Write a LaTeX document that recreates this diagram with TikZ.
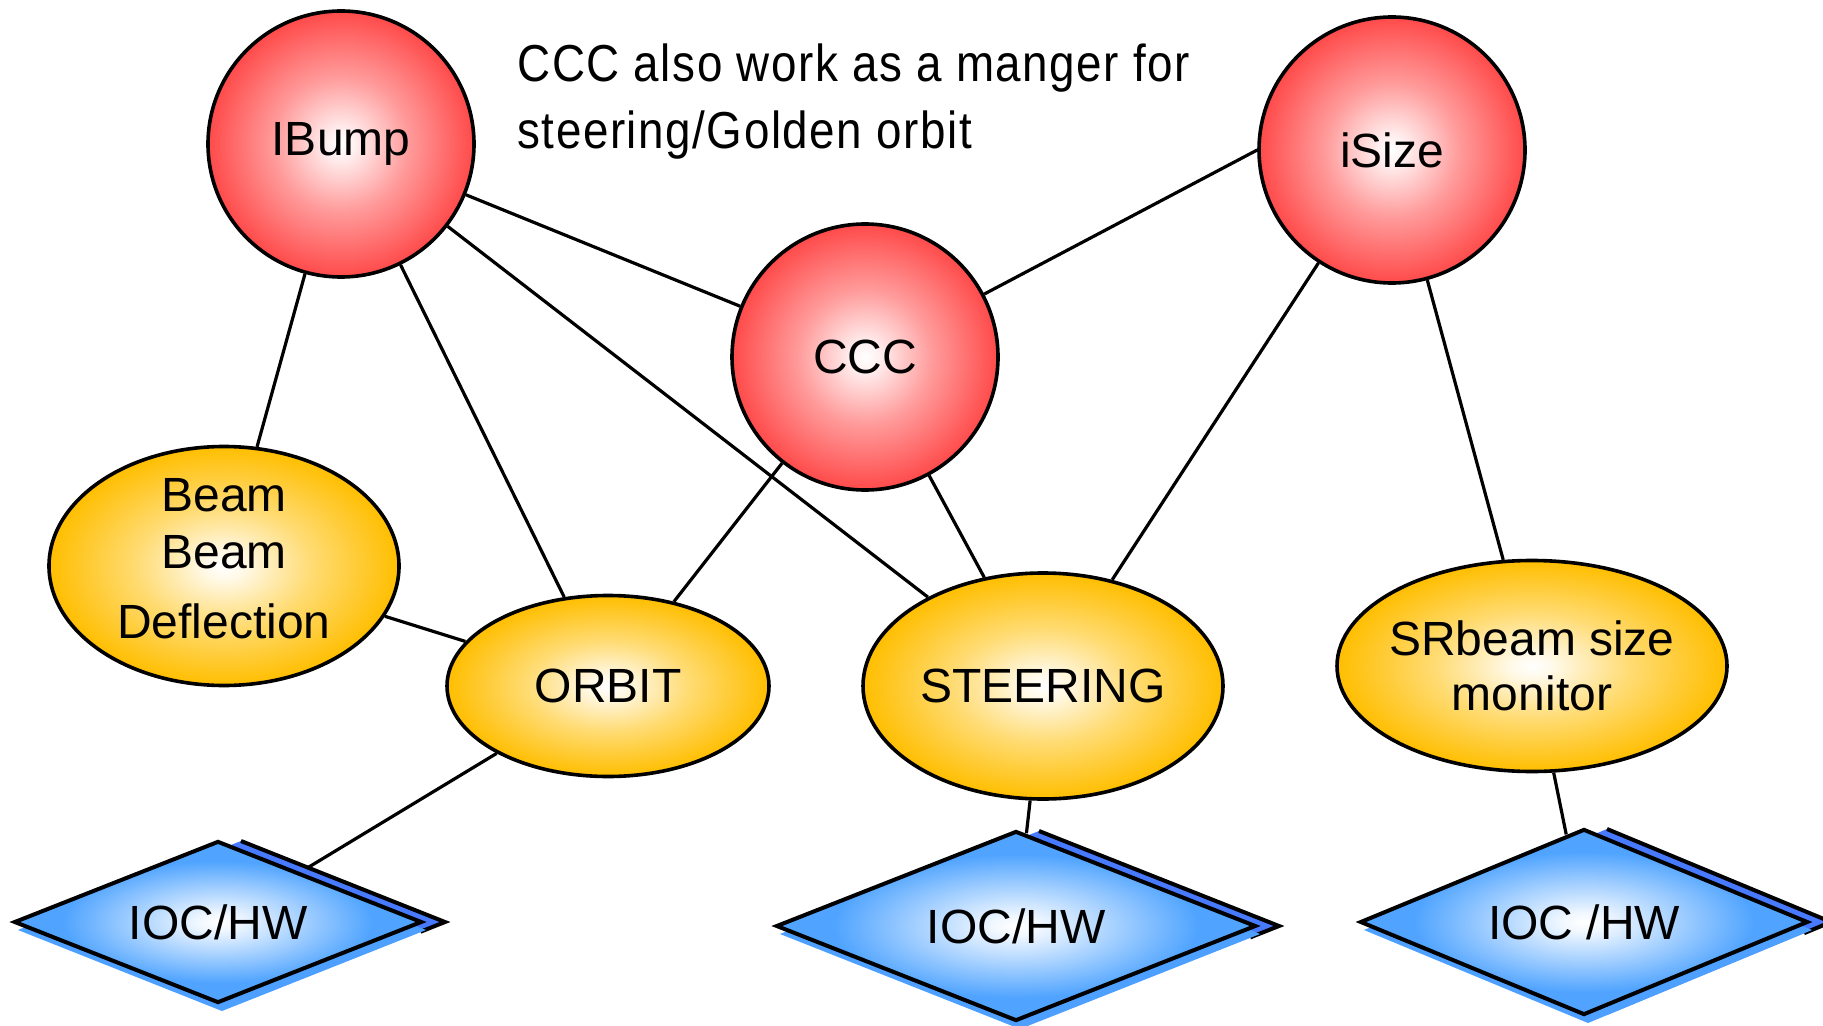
\documentclass[tikz,border=0pt]{standalone}
\usepackage{fontspec}
\setmainfont{Liberation Sans}
\newfontfamily\notefont[FakeStretch=0.88, LetterSpace=3]{Liberation Sans}
\usetikzlibrary{shapes.geometric, backgrounds}

% colours of the three node families
\definecolor{ballred}{RGB}{255,74,74}
\colorlet{ballredmid}{white!45!ballred}
\colorlet{ballredin}{white!92!ballred}
\definecolor{ballgold}{RGB}{255,190,0}
\colorlet{ballgoldmid}{white!45!ballgold}
\colorlet{ballgoldin}{white!92!ballgold}
\definecolor{iocblue}{RGB}{80,164,255}
\colorlet{iocbluemid}{white!45!iocblue}
\colorlet{iocbluein}{white!92!iocblue}
\definecolor{iocshade}{RGB}{77,160,255}
\definecolor{iocback}{RGB}{72,122,255}

% radial glows: white centre, full colour at the outline (25bp = outline)
\pgfdeclareradialshading{redglow}{\pgfpoint{0bp}{0bp}}{%
  color(0bp)=(white); color(2.5bp)=(ballredin); color(12.5bp)=(ballredmid); color(25bp)=(ballred); color(50bp)=(ballred)}
\pgfdeclareradialshading{goldglow}{\pgfpoint{0bp}{0bp}}{%
  color(0bp)=(white); color(2.5bp)=(ballgoldin); color(12.5bp)=(ballgoldmid); color(25bp)=(ballgold); color(50bp)=(ballgold)}
\pgfdeclareradialshading{blueglow}{\pgfpoint{0bp}{0bp}}{%
  color(0bp)=(white); color(2.5bp)=(iocbluein); color(11bp)=(iocbluemid); color(19bp)=(iocblue); color(50bp)=(iocblue)}

\newcommand\labelfont{\fontsize{24pt}{28.5pt}\selectfont}

% back plate and drop shadow of an IOC diamond: centre x, centre y, half width, half height
\newcommand\iocbacking[4]{%
  \fill[iocback] ({#1+23},{#2-#4}) -- ({#1+#3+23},{#2}) -- ({#1+23},{#2+#4}) -- ({#1-#3+23},{#2}) -- cycle;
  \draw[line width=2pt, line join=miter] ({#1+23},{#2-#4}) -- ({#1+#3+23},{#2}) -- ({#1+0.88*#3+23},{#2+0.12*#4});
  \fill[iocshade] ({#1+4},{#2-#4+8}) -- ({#1+#3+4},{#2+8}) -- ({#1+4},{#2+#4+8}) -- ({#1-#3+4},{#2+8}) -- cycle;
}

\tikzset{
  hub/.style={circle, draw=black, line width=1.8pt, shading=redglow, shade,
    minimum size=133pt, inner sep=0pt, font=\labelfont},
  sub/.style={ellipse, draw=black, line width=1.8pt, shading=goldglow, shade,
    inner sep=0pt, font=\labelfont},
  ioc/.style={diamond, aspect=2.5, draw=black, line width=2pt, shading=blueglow, shade,
    inner sep=0pt, font=\labelfont},
  link/.style={line width=1.6pt},
  note/.style={align=left, inner sep=0pt, anchor=north west,
    font=\notefont\fontsize{26pt}{33.5pt}\selectfont},
}

\begin{document}
\begin{tikzpicture}[x=0.5pt, y=-0.5pt]
\useasboundingbox (0,0) rectangle (1823,1026);

% control layer
\node[hub] (ibump) at (341,144) {IBump};
\node[hub] (ccc)   at (865,357) {CCC};
\node[hub] (isize) at (1392,150) {iSize};

% application layer
\node[sub, minimum width=175pt, minimum height=119.5pt,
  label={[align=center, font=\labelfont, yshift=3.5pt]center:Beam\\Beam\\[6.5pt]Deflection}] (bbd) at (224,566) {};
\node[sub, minimum width=161pt, minimum height=90.5pt] (orbit) at (608,686) {ORBIT};
\node[sub, minimum width=180pt, minimum height=113pt] (steer) at (1043,686) {STEERING};
\node[sub, minimum width=195pt, minimum height=105.5pt,
  label={[align=center, font=\fontsize{24pt}{27.5pt}\selectfont]center:SRbeam size\\monitor}] (srmon) at (1532,666) {};

% hardware layer
\iocbacking{218}{922}{204}{81}
\node[ioc, minimum width=204pt, minimum height=81pt] (ioca) at (218,922) {IOC/HW};
\iocbacking{1016}{926}{240}{95}
\node[ioc, minimum width=240pt, minimum height=95pt] (iocb) at (1016,926) {IOC/HW};
\iocbacking{1584}{922}{224}{93}
\node[ioc, minimum width=224pt, minimum height=93pt] (iocc) at (1584,922) {IOC /HW};

\node[note] (remark) at (517,43) {CCC also work as a manger for\\steering/Golden orbit};

% connections, kept underneath the shapes
\begin{scope}[on background layer]
\fill[white] (0,0) rectangle (1823,1026);
\draw[link] (ibump) -- (ccc);
\draw[link] (ibump) -- (steer);
\draw[link] (ibump) -- (orbit);
\draw[link] (ibump) -- (bbd);
\draw[link] (ccc) -- (isize.west);
\draw[link] (ccc) -- (orbit);
\draw[link] (ccc) -- (steer);
\draw[link] (isize) -- (steer);
\draw[link] (isize) -- (srmon);
\draw[link] (bbd) -- (orbit);
\draw[link] (orbit) -- (ioca);
\draw[link] (steer) -- (iocb);
\draw[link] (srmon) -- (iocc);
\end{scope}
\end{tikzpicture}
\end{document}
